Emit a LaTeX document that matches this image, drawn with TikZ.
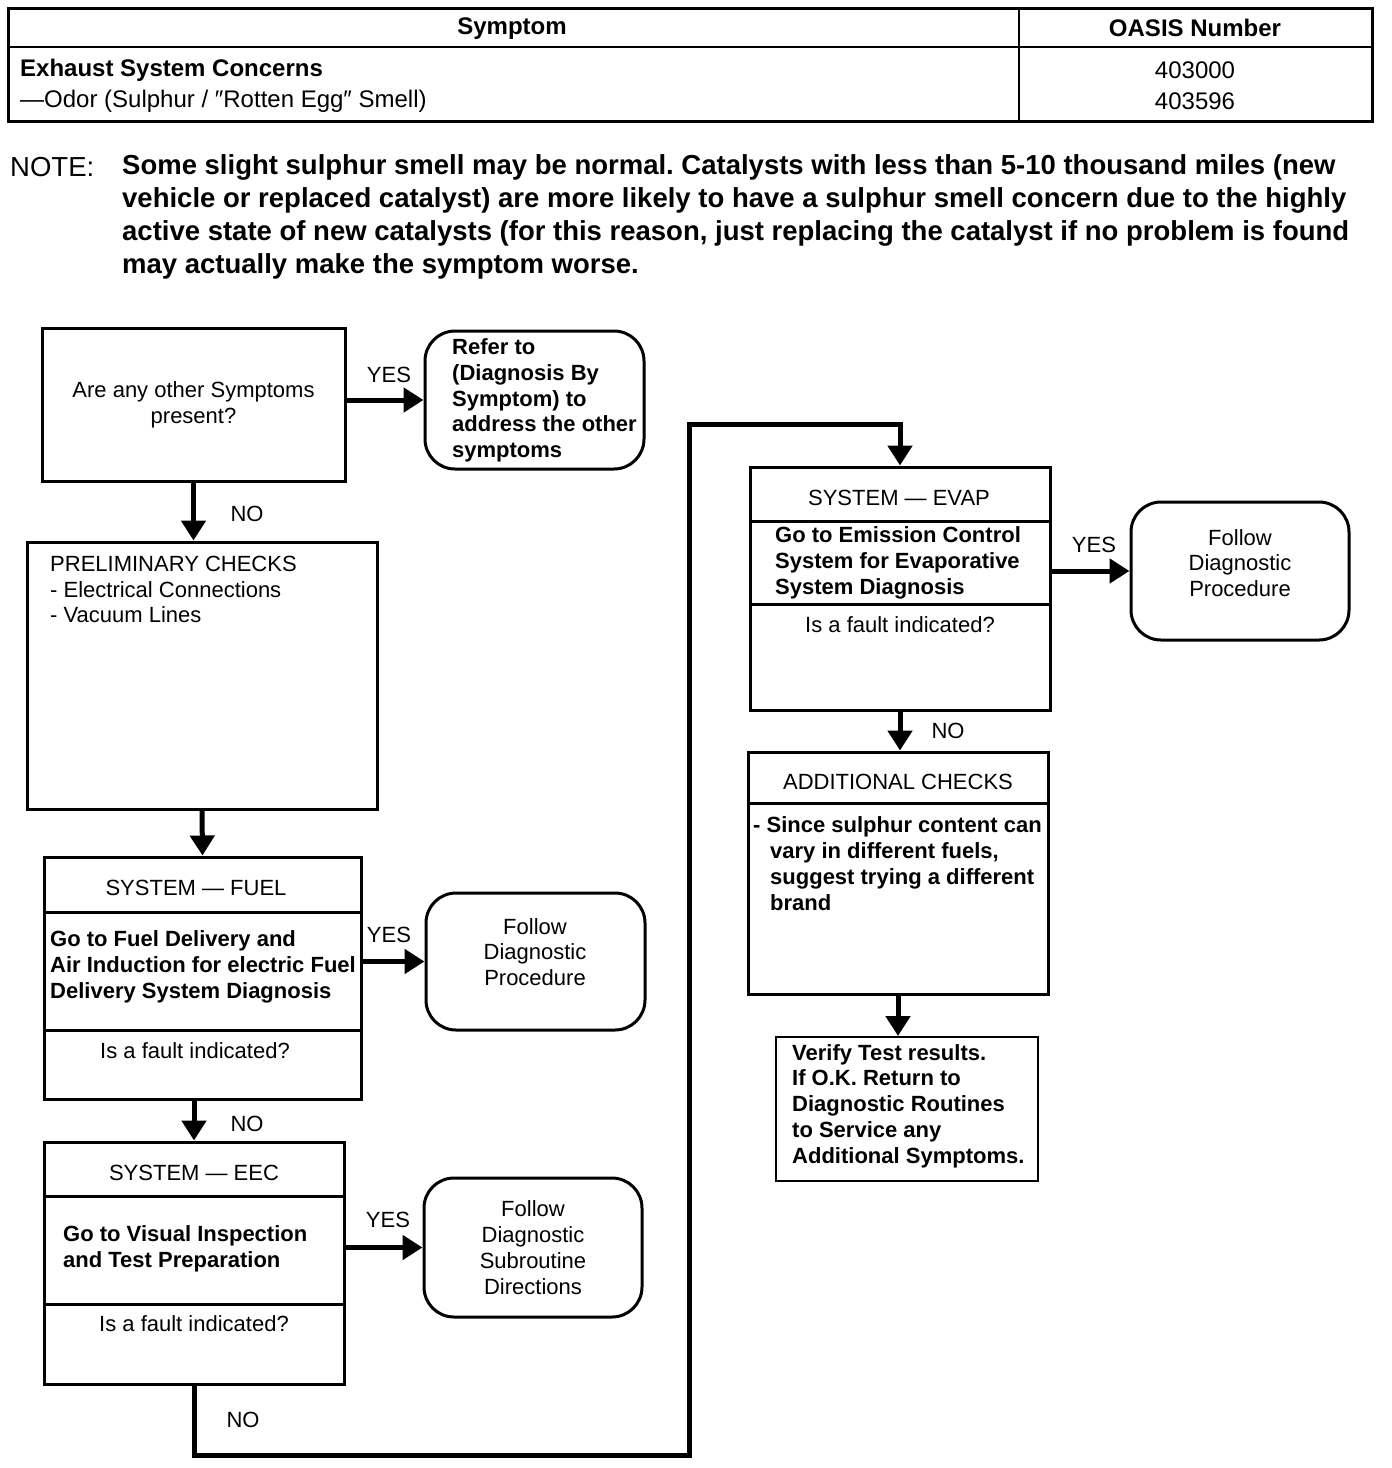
\documentclass[tikz,border=0pt]{standalone}
\usepackage{fontspec}
\setmainfont{Liberation Sans}
\usetikzlibrary{arrows.meta,positioning}
\frenchspacing
\newcommand\chartsize{\fontsize{22}{25.75}\selectfont}
\newcommand\tablesize{\fontsize{24}{28}\selectfont}
\newcommand\notesize{\fontsize{27.5}{33}\selectfont}
\tikzset{
  box/.style={draw,line width=3pt,inner sep=0pt},
  rbox/.style={box,rounded corners=30pt},
  thinbox/.style={draw,line width=2pt,inner sep=0pt},
  flow/.style={-{Triangle[length=20pt,width=24pt]},line width=5pt},
  txt/.style={font=\chartsize,align=center,inner sep=0pt},
  btxt/.style={font=\chartsize\bfseries,align=left,inner sep=0pt},
  ltxt/.style={font=\chartsize,align=left,inner sep=0pt},
  yn/.style={font=\chartsize,inner sep=0pt},
  cell/.style={font=\tablesize,inner sep=0pt},
}

\begin{document}
\begin{tikzpicture}[x=1pt,y=-1pt]
  \useasboundingbox (0,0) rectangle (1392,1468);
  % symptom table
  \draw[line width=3pt] (8,8) rectangle (1372,121);
  \draw[line width=2pt] (8,47) -- (1372,47) (1019,8) -- (1019,121);
  \node[cell,font=\tablesize\bfseries] (thSym) at (512,29) {Symptom};
  \node[cell,font=\tablesize\bfseries] (thNum) at (1195,28) {OASIS Number};
  \node[cell,font=\tablesize\bfseries,anchor=west] (tdSym1) at (20,70) {Exhaust System Concerns};
  \node[cell,anchor=west] (tdSym2) at (20,101) {---Odor (Sulphur / ″Rotten Egg″ Smell)};
  \node[cell] (tdNum1) at (1195,70) {403000};
  \node[cell] (tdNum2) at (1195,101) {403596};
  % note
  \node[inner sep=0pt,anchor=west,font=\notesize] (noteTag) at (10,167) {NOTE:};
  \node[inner sep=0pt,anchor=west,align=left,font=\notesize\bfseries] (noteBody) at (122,216.5)
    {Some slight sulphur smell may be normal. Catalysts with less than 5-10 thousand miles (new\\
     vehicle or replaced catalyst) are more likely to have a sulphur smell concern due to the highly\\
     active state of new catalysts (for this reason, just replacing the catalyst if no problem is found\\
     may actually make the symptom worse.};

  % left column
  \node[box,txt,minimum width=303pt,minimum height=153pt] (q1) at (193.5,404.5)
    {Are any other Symptoms\\present?};
  \node[rbox,minimum width=219pt,minimum height=138pt] (refer) at (534.5,400) {};
  \node[btxt,anchor=west] at (452,400.5)
    {Refer to\\(Diagnosis By\\Symptom) to\\address the other\\symptoms};
  \node[box,minimum width=350pt,minimum height=267pt] (prelim) at (202,675.5) {};
  \node[ltxt,anchor=west] at (50,589.5)
    {PRELIMINARY CHECKS\\- Electrical Connections\\- Vacuum Lines};

  % fuel
  \node[box,minimum width=317pt,minimum height=55pt] (fuelHead) at (202.5,884.5) {};
  \node[box,minimum width=317pt,minimum height=118pt] (fuelBody) at (202.5,971) {};
  \node[box,minimum width=317pt,minimum height=69pt] (fuelAsk) at (202.5,1064.5) {};
  \node[txt] at (196,888) {SYSTEM --- FUEL};
  \node[btxt,anchor=west] at (50,967)
    {Go to Fuel Delivery and\\Air Induction for electric Fuel\\Delivery System Diagnosis};
  \node[txt] at (195,1051) {Is a fault indicated?};
  \node[rbox,minimum width=219pt,minimum height=137pt] (follow1) at (535.5,961.5) {};
  \node[txt] at (535,952) {Follow\\Diagnostic\\Procedure};

  % eec
  \node[box,minimum width=300pt,minimum height=54pt] (eecHead) at (194,1169) {};
  \node[box,minimum width=300pt,minimum height=108pt] (eecBody) at (194,1250) {};
  \node[box,minimum width=300pt,minimum height=80pt] (eecAsk) at (194,1344) {};
  \node[txt] at (194,1173) {SYSTEM --- EEC};
  \node[btxt,anchor=west] at (63,1249)
    {Go to Visual Inspection\\and Test Preparation};
  \node[txt] at (194,1324) {Is a fault indicated?};
  \node[rbox,txt,minimum width=218pt,minimum height=139pt] (follow2) at (533,1247.5)
    {Follow\\Diagnostic\\Subroutine\\Directions};

  % evap
  \node[box,minimum width=300pt,minimum height=54pt] (evapHead) at (900,494) {};
  \node[box,minimum width=300pt,minimum height=83pt] (evapBody) at (900,562.5) {};
  \node[box,minimum width=300pt,minimum height=106pt] (evapAsk) at (900,657) {};
  \node[txt] at (899,498) {SYSTEM --- EVAP};
  \node[btxt,anchor=west] at (775,563)
    {Go to Emission Control\\System for Evaporative\\System Diagnosis};
  \node[txt] at (900,625) {Is a fault indicated?};
  \node[rbox,minimum width=218pt,minimum height=138pt] (follow3) at (1240,571) {};
  \node[txt] at (1240,563) {Follow\\Diagnostic\\Procedure};

  % additional checks
  \node[box,minimum width=300pt,minimum height=51pt] (addHead) at (898,777.5) {};
  \node[box,minimum width=300pt,minimum height=191pt] (addBody) at (898,898.5) {};
  \node[txt] at (898,782) {ADDITIONAL CHECKS};
  \node[btxt,anchor=west] at (753,863.5)
    {- Since sulphur content can\\\hspace*{17pt}vary in different fuels,\\
     \hspace*{17pt}suggest trying a different\\\hspace*{17pt}brand};
  \node[thinbox,minimum width=262pt,minimum height=144pt] (verify) at (907,1109) {};
  \node[btxt,anchor=west] at (792,1106)
    {Verify Test results.\\If O.K. Return to\\Diagnostic Routines\\to Service any\\Additional Symptoms.};

  % connectors
  \coordinate (loopBot) at (689,1455);
  \coordinate (loopTop) at (689,424);
  \draw[flow] (q1.east |- refer.west) -- (refer.west);
  \draw[flow] (q1.south) -- (q1.south |- prelim.north);
  \draw[flow] (prelim.south) -- (fuelHead.north);
  \draw[flow] (fuelBody.east |- follow1.west) -- (follow1.west);
  \draw[flow] (eecHead.north |- fuelAsk.south) -- (eecHead.north);
  \draw[flow] (eecBody.east |- follow2.west) -- (follow2.west);
  \draw[flow] (eecAsk.south) |- (loopBot) -- (loopTop) -| (evapHead.north);
  \draw[flow] (evapBody.east |- follow3.west) -- (follow3.west);
  \draw[flow] (evapAsk.south) -- (evapAsk.south |- addHead.north);
  \draw[flow] (addBody.south) -- (addBody.south |- verify.north);

  % yes / no labels
  \node[yn] at (389,375) {YES};
  \node[yn] at (247,514) {NO};
  \node[yn] at (389,935) {YES};
  \node[yn] at (247,1124) {NO};
  \node[yn] at (388,1220) {YES};
  \node[yn] at (243,1420) {NO};
  \node[yn] at (1094,545) {YES};
  \node[yn] at (948,731) {NO};
\end{tikzpicture}
\end{document}
